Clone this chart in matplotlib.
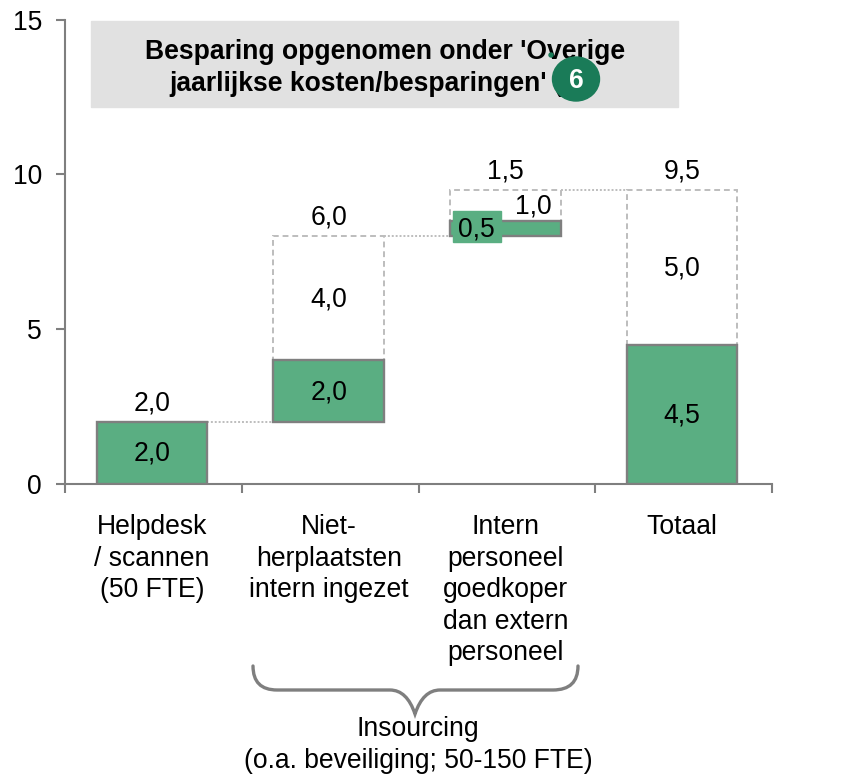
import matplotlib
matplotlib.use('Agg')

import matplotlib.pyplot as plt
from matplotlib.patches import PathPatch, Rectangle, Ellipse, Circle
from matplotlib.path import Path

plt.rcParams['font.family'] = ['Liberation Sans', 'DejaVu Sans']

categories = ['Helpdesk\n/ scannen\n(50 FTE)', 'Niet-\nherplaatsten\nintern ingezet',
              'Intern\npersoneel\ngoedkoper\ndan extern\npersoneel', 'Totaal']
bottoms = [0, 2, 8, 0]
green = [2.0, 2.0, 0.5, 4.5]
dashed = [0, 4.0, 1.0, 5.0]
totals = [2.0, 6.0, 1.5, 9.5]
green_labels = ['2,0', '2,0', '0,5', '4,5']
dashed_labels = ['', '4,0', '1,0', '5,0']
total_labels = ['2,0', '6,0', '1,5', '9,5']
yticks = [0, 5, 10, 15]

GREEN = '#5aae82'
GREY = '#7f7f7f'
DASH = '#bdbdbd'
W, H = 849, 775
FS = 19.1
LS = 1.27

fig = plt.figure(figsize=(8.49, 7.75), dpi=100)
ax = fig.add_axes([65/W, (H-484)/H, (772-65)/W, (484-19.5)/H])
x = [i - 0.008 for i in range(len(categories))]
bw = 0.625

# dashed upper parts first, then the green parts
for i, xi in enumerate(x):
    if dashed[i] > 0:
        ax.bar(xi, dashed[i], bw, bottom=bottoms[i]+green[i], facecolor='white',
               edgecolor=DASH, linewidth=1.4, linestyle=(0, (3, 2)), zorder=2)
ax.bar(x, green, bw, bottom=bottoms, color=GREEN, edgecolor=GREY, linewidth=1.7, zorder=3)

# connectors between the columns
for i in range(len(categories)-1):
    level = bottoms[i] + totals[i]
    ax.plot([x[i]+bw/2, x[i+1]-bw/2], [level, level], color=DASH, lw=1.4, ls=(0, (1, 1)), zorder=1)

# labels
for i, xi in enumerate(x):
    ax.text(xi, bottoms[i]+totals[i]+0.6, total_labels[i], ha='center', va='center', fontsize=FS)
    if i == 2:
        # the 0,5 label sits on its own green box, left of centre
        ax.add_patch(Rectangle((xi-0.297, 7.8), 0.271, 1.03, color=GREEN, zorder=4))
        ax.text(xi-0.165, 8.23, green_labels[i], ha='center', va='center', fontsize=FS, zorder=5)
        ax.text(xi+0.155, 8.95, dashed_labels[i], ha='center', va='center', fontsize=FS)
    else:
        ax.text(xi, bottoms[i]+green[i]/2-0.03, green_labels[i], ha='center', va='center', fontsize=FS, zorder=5)
        if dashed[i] > 0:
            ax.text(xi, bottoms[i]+green[i]+dashed[i]/2-0.03, dashed_labels[i], ha='center', va='center', fontsize=FS)

ax.set_xlim(-0.5, 3.5)
ax.set_ylim(0, 15)
ax.set_yticks(yticks)
ax.set_xticks([-0.5, 0.5, 1.5, 2.5, 3.5])
ax.set_xticklabels([])
for i, xi in enumerate(x):
    ax.text(xi, -0.98, categories[i], ha='center', va='top', fontsize=FS, linespacing=LS)
for s in ['top', 'right']:
    ax.spines[s].set_visible(False)
for s in ['left', 'bottom']:
    ax.spines[s].set_color(GREY)
    ax.spines[s].set_linewidth(1.5)
ax.tick_params(axis='y', length=6.5, width=1.5, color=GREY, labelsize=FS, pad=10)
ax.tick_params(axis='x', length=6.5, width=1.5, color=GREY)

# overlay in pixel coordinates for the box, badge and brace
ov = fig.add_axes([0, 0, 1, 1])
ov.set_xlim(0, W)
ov.set_ylim(H, 0)
ov.axis('off')
ov.add_patch(Rectangle((91, 21), 587, 86, color='#e1e1e1', zorder=1))
ov.text(385, 68, "Besparing opgenomen onder 'Overige\njaarlijkse kosten/besparingen' (6)\u00a0\u00a0", ha='center',
        va='center', fontsize=FS, fontweight='bold', linespacing=LS, zorder=2)
ov.add_patch(Ellipse((576, 79), 47, 44, color='#1a7b58', zorder=3))
ov.add_patch(Circle((551, 55), 2, color='#1a7b58', zorder=3))
ov.text(576, 81, '6', color='white', ha='center', va='center', fontsize=FS, fontweight='bold', zorder=4)

verts = [(253, 666), (253, 690), (277, 690), (390, 690), (407, 690), (415, 714),
         (423, 690), (440, 690), (553, 690), (578, 690), (578, 666)]
codes = [Path.MOVETO, Path.CURVE3, Path.CURVE3, Path.LINETO, Path.CURVE3, Path.CURVE3,
         Path.CURVE3, Path.CURVE3, Path.LINETO, Path.CURVE3, Path.CURVE3]
ov.add_patch(PathPatch(Path(verts, codes), fill=False, edgecolor=GREY, lw=2.4, capstyle='round'))
ov.text(418, 745, 'Insourcing\n(o.a. beveiliging; 50-150 FTE)', ha='center', va='center',
        fontsize=FS, linespacing=LS)

fig.savefig('out.png', dpi=100)
